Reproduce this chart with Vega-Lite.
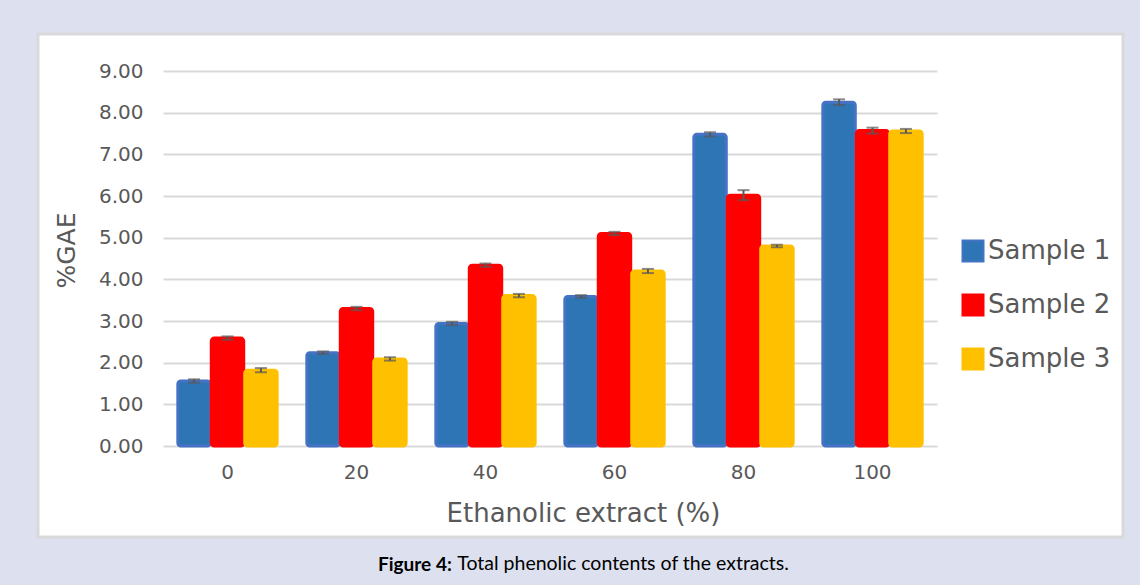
{
  "$schema": "https://vega.github.io/schema/vega-lite/v6.json",
  "autosize": {"type": "none"},
  "width": 1085,
  "height": 503,
  "padding": {"left": 38, "top": 34, "right": 17, "bottom": 48},
  "background": "#dde1ef",
  "config": {
    "view": {"fill": "#ffffff", "stroke": "#d9d9d9", "strokeWidth": 3},
    "font": "DejaVu Sans"
  },
  "title": {
    "text": "Figure 4:",
    "subtitle": "\u200b\u00a0\u00a0\u00a0\u00a0\u00a0\u00a0\u00a0\u00a0\u00a0\u00a0\u00a0\u00a0\u00a0\u00a0\u00a0\u00a0Total phenolic contents of the extracts.",
    "orient": "bottom",
    "anchor": "start",
    "frame": "group",
    "dx": 340,
    "offset": 19,
    "font": "Lato",
    "fontSize": 19,
    "fontWeight": "bold",
    "color": "#000000",
    "subtitleFont": "Lato",
    "subtitleFontSize": 19.5,
    "subtitleFontWeight": "normal",
    "subtitleColor": "#000000",
    "subtitlePadding": -20
  },
  "data": {
    "values": [
      {"extract": "0", "sample": "Sample 1", "value": 1.56, "err": 0.04},
      {"extract": "0", "sample": "Sample 2", "value": 2.59, "err": 0.04},
      {"extract": "0", "sample": "Sample 3", "value": 1.82, "err": 0.05},
      {"extract": "20", "sample": "Sample 1", "value": 2.24, "err": 0.03},
      {"extract": "20", "sample": "Sample 2", "value": 3.3, "err": 0.04},
      {"extract": "20", "sample": "Sample 3", "value": 2.09, "err": 0.04},
      {"extract": "40", "sample": "Sample 1", "value": 2.94, "err": 0.04},
      {"extract": "40", "sample": "Sample 2", "value": 4.34, "err": 0.04},
      {"extract": "40", "sample": "Sample 3", "value": 3.61, "err": 0.04},
      {"extract": "60", "sample": "Sample 1", "value": 3.59, "err": 0.03},
      {"extract": "60", "sample": "Sample 2", "value": 5.1, "err": 0.04},
      {"extract": "60", "sample": "Sample 3", "value": 4.2, "err": 0.05},
      {"extract": "80", "sample": "Sample 1", "value": 7.48, "err": 0.05},
      {"extract": "80", "sample": "Sample 2", "value": 6.02, "err": 0.12},
      {"extract": "80", "sample": "Sample 3", "value": 4.8, "err": 0.03},
      {"extract": "100", "sample": "Sample 1", "value": 8.25, "err": 0.07},
      {"extract": "100", "sample": "Sample 2", "value": 7.57, "err": 0.07},
      {"extract": "100", "sample": "Sample 3", "value": 7.56, "err": 0.05}
    ]
  },
  "transform": [
    {"calculate": "datum.value - datum.err", "as": "low"},
    {"calculate": "datum.value + datum.err", "as": "high"}
  ],
  "encoding": {
    "x": {
      "field": "extract",
      "type": "nominal",
      "sort": ["0", "20", "40", "60", "80", "100"],
      "scale": {"range": [125, 899], "paddingInner": 0.23, "paddingOuter": 0.115},
      "axis": {
        "title": "Ethanolic extract (%)",
        "offset": -91,
        "labelAngle": 0,
        "ticks": false,
        "domain": false,
        "labelPadding": 16,
        "labelFontSize": 20,
        "labelColor": "#595959",
        "titleFontSize": 26,
        "titleFontWeight": "normal",
        "titleColor": "#595959",
        "titlePadding": 18,
        "titleX": 545,
        "titleAlign": "center",
        "grid": false
      }
    },
    "xOffset": {
      "field": "sample",
      "type": "nominal",
      "scale": {"paddingInner": 0.03}
    }
  },
  "layer": [
    {
      "mark": {"type": "bar", "strokeWidth": 3, "cornerRadius": 3},
      "encoding": {
        "y": {
          "field": "value",
          "type": "quantitative",
          "scale": {"domain": [0, 9], "range": [412, 37], "nice": false},
          "axis": {
            "title": "%GAE",
            "offset": -125,
            "values": [0, 1, 2, 3, 4, 5, 6, 7, 8, 9],
            "format": ".2f",
            "ticks": false,
            "domain": false,
            "labelPadding": 20,
            "labelFontSize": 20,
            "labelColor": "#595959",
            "titleFontSize": 25,
            "titleFontWeight": "normal",
            "titleColor": "#595959",
            "titlePadding": 19,
            "titleY": 216,
            "titleAlign": "center",
            "gridColor": "#d9d9d9",
            "gridWidth": 2
          }
        },
        "fill": {
          "field": "sample",
          "type": "nominal",
          "scale": {"range": ["#2e75b6", "#ff0000", "#ffc000"]},
          "legend": {
            "title": null,
            "orient": "none",
            "legendX": 922,
            "legendY": 204,
            "symbolType": "square",
            "symbolSize": 441,
            "symbolStrokeWidth": 2,
            "labelFontSize": 26,
            "labelColor": "#595959",
            "labelOffset": 2,
            "rowPadding": 24
          }
        },
        "stroke": {
          "field": "sample",
          "type": "nominal",
          "scale": {"range": ["#4472c4", "#ff0000", "#ffc000"]},
          "legend": null
        }
      }
    },
    {
      "mark": {"type": "rule", "color": "#595959", "strokeWidth": 2},
      "encoding": {
        "y": {"field": "low", "type": "quantitative"},
        "y2": {"field": "high"}
      }
    },
    {
      "mark": {"type": "tick", "color": "#595959", "thickness": 2, "size": 12},
      "encoding": {"y": {"field": "low", "type": "quantitative"}}
    },
    {
      "mark": {"type": "tick", "color": "#595959", "thickness": 2, "size": 12},
      "encoding": {"y": {"field": "high", "type": "quantitative"}}
    }
  ]
}
